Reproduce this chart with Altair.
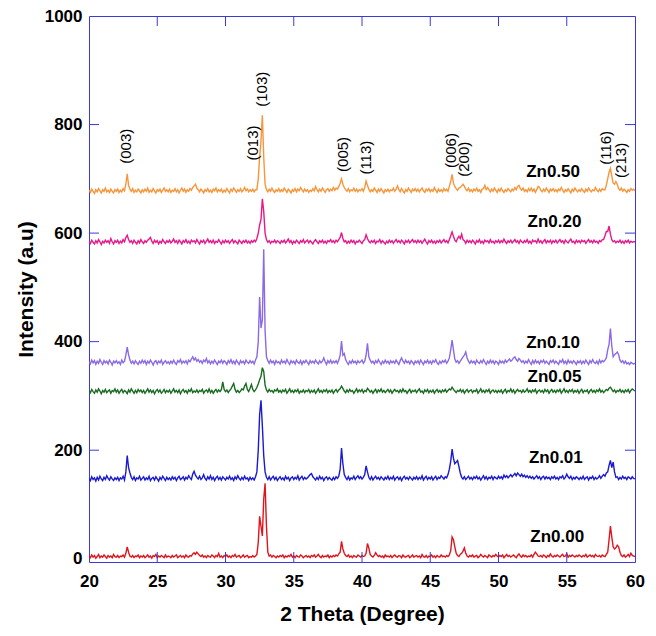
import altair as alt
import numpy as np
import pandas as pd

# 2-theta sampling grid (0.1 degree steps)
two_theta = np.round(20 + 0.1 * np.arange(401), 1)

zn000 = [
    5,2,7,3,6,1,4,8,2,5,3,7,4,1,6,3,5,2,8,4,
    3,6,2,5,4,7,3,10,22,12,5,3,6,2,5,4,7,2,5,3,
    6,2,4,7,3,5,1,6,4,8,2,5,3,6,4,2,7,3,5,4,
    2,6,3,5,7,2,4,6,3,5,2,7,4,3,6,5,9,11,8,12,
    9,6,4,7,3,5,2,6,4,3,7,5,2,6,4,10,3,5,2,6,
    4,7,3,5,2,6,4,8,3,5,6,2,4,7,3,5,6,2,4,3,
    6,3,5,8,30,78,60,42,110,139,60,12,5,7,3,6,4,2,5,3,
    6,4,7,2,5,3,6,4,8,3,5,2,6,4,3,7,5,2,4,6,
    3,5,2,6,4,7,3,5,8,4,2,6,3,5,4,7,2,5,3,6,
    4,7,5,9,12,32,18,10,6,4,7,3,5,2,6,4,3,7,5,3,
    6,4,5,10,28,20,8,5,3,6,11,7,4,6,3,5,2,7,4,5,
    3,6,2,5,7,4,3,6,5,2,7,4,3,5,6,2,4,7,3,5,
    6,3,5,2,8,4,3,6,2,5,4,7,3,5,2,6,4,3,7,4,
    5,3,6,4,7,15,40,35,22,10,6,4,8,10,14,20,10,5,3,6,
    4,7,3,5,6,2,4,8,5,3,6,4,2,7,5,3,6,4,8,5,
    3,6,4,7,2,5,8,4,6,3,5,7,4,2,6,9,5,3,7,4,
    6,3,5,4,7,3,8,12,9,5,4,6,3,7,5,2,6,4,9,5,
    3,6,4,7,5,3,6,8,4,5,9,3,6,4,7,5,3,6,4,7,
    5,3,6,4,8,3,5,7,4,6,3,8,5,4,6,3,7,5,4,8,
    12,35,60,40,22,18,20,25,22,12,6,4,7,3,5,8,4,10,6,5,
    4,
]

zn001 = [
    148,144,151,146,149,143,150,145,152,147,144,150,146,153,148,145,151,147,144,149,
    146,150,144,149,147,152,145,160,190,168,158,150,146,151,144,149,147,152,145,148,
    151,145,149,146,152,144,148,150,145,151,147,143,150,146,152,148,144,150,146,149,
    145,151,147,150,144,149,152,146,148,151,145,150,147,153,149,146,156,161,154,150,
    147,152,146,149,155,148,145,151,147,153,146,150,144,149,152,146,150,145,151,148,
    145,150,147,152,146,149,144,151,147,153,148,145,150,146,152,147,149,144,150,146,
    149,145,151,160,200,265,292,245,190,160,150,146,151,145,149,152,146,150,144,148,
    151,146,149,145,152,147,150,144,149,151,146,150,147,153,145,149,152,146,150,147,
    149,152,155,157,151,148,145,150,146,152,147,150,144,149,151,146,150,147,145,150,
    146,151,148,152,165,204,175,155,150,146,151,145,149,147,152,146,150,153,148,151,
    147,150,155,171,160,150,146,151,145,149,152,147,150,146,151,148,145,150,147,152,
    146,150,147,152,145,149,151,146,150,144,149,152,147,150,146,151,148,145,150,147,
    151,146,150,147,153,145,149,152,146,150,147,151,145,149,152,146,150,148,153,150,
    147,151,149,155,165,180,202,185,175,178,181,170,158,150,147,151,146,149,152,147,
    150,146,151,148,152,147,150,145,149,153,147,151,146,150,148,152,146,151,149,147,
    152,148,151,147,154,150,153,149,152,155,151,154,157,153,158,155,152,156,151,154,
    150,153,149,152,148,151,147,150,153,148,151,146,150,152,147,151,148,150,146,151,
    148,152,147,150,146,151,149,153,147,150,156,151,148,152,146,150,147,151,149,146,
    150,147,152,146,149,151,145,150,148,152,146,150,147,149,153,148,152,155,152,158,
    160,172,181,168,178,160,150,151,146,150,147,152,148,150,146,151,149,147,151,148,
    147,
]

zn005 = [
    310,306,312,308,305,311,307,313,309,304,310,307,312,306,309,311,305,310,308,313,
    307,311,305,309,312,306,310,308,304,311,307,313,309,305,310,306,312,308,311,306,
    310,305,309,313,307,311,306,310,304,309,312,307,311,305,308,312,306,310,307,311,
    305,309,313,307,310,306,311,304,309,312,307,310,305,311,308,313,306,309,307,311,
    306,310,308,312,305,309,311,307,313,306,310,305,309,312,307,311,308,312,326,312,
    308,311,306,310,313,318,323,312,307,310,306,309,313,311,318,323,312,308,314,321,
    312,308,311,316,322,330,336,352,345,320,311,307,312,308,310,306,311,309,313,307,
    310,306,311,308,312,305,309,313,307,310,306,311,308,312,305,309,307,311,306,310,
    308,312,306,310,307,311,305,309,313,307,310,306,311,308,312,306,310,307,311,305,
    309,312,307,311,313,318,314,309,306,311,307,312,308,310,305,309,313,307,311,308,
    312,306,310,308,314,311,307,310,305,309,312,306,311,308,313,307,310,306,309,312,
    307,311,305,309,312,308,310,306,311,307,313,308,310,305,309,312,306,310,308,311,
    306,310,313,307,309,305,311,308,312,306,310,307,311,305,309,312,307,310,306,311,
    308,312,307,310,313,311,316,312,309,306,310,308,312,307,311,305,309,312,307,310,
    311,306,310,308,312,305,309,313,307,310,306,311,308,312,305,309,311,307,310,306,
    310,307,311,305,309,312,306,310,308,313,307,311,305,309,312,308,310,306,311,307,
    309,313,307,310,306,311,308,312,305,309,311,307,310,306,312,308,311,305,309,312,
    307,310,306,311,308,312,305,309,313,307,310,306,311,308,312,306,310,307,311,305,
    309,312,306,310,308,311,305,309,312,307,310,306,311,308,313,307,310,306,309,312,
    310,314,316,312,308,311,306,310,308,312,307,310,306,311,308,312,306,310,313,311,
    309,
]

zn010 = [
    363,359,366,361,365,358,364,360,367,362,358,365,361,364,359,366,362,357,364,361,
    365,360,363,358,366,361,364,375,390,376,366,360,364,359,365,361,358,364,360,366,
    361,365,358,364,360,366,362,357,363,365,359,364,361,366,358,362,365,360,363,359,
    364,360,366,361,358,365,362,367,360,364,361,365,359,366,363,368,372,366,370,364,
    367,362,365,360,366,363,369,361,365,359,364,360,366,362,358,364,361,366,360,365,
    362,358,365,361,367,360,364,359,366,362,358,365,361,364,359,366,362,360,365,361,
    364,359,366,372,400,482,425,440,570,420,372,365,360,366,361,364,358,365,361,363,
    359,366,361,364,360,367,362,358,365,361,364,359,366,362,360,365,358,364,361,366,
    362,358,365,361,364,360,366,362,359,365,361,364,370,363,358,365,361,366,360,364,
    361,365,360,366,375,401,375,378,367,362,358,364,360,366,361,364,359,365,361,363,
    366,360,364,375,397,372,366,361,364,359,365,361,367,362,358,364,360,366,361,364,
    359,365,361,364,360,366,362,358,365,370,364,360,366,361,364,359,365,362,358,364,
    361,365,359,366,362,358,364,361,366,360,364,359,365,362,367,361,358,364,360,365,
    362,366,360,364,370,385,403,385,368,362,365,360,364,368,372,375,381,370,364,360,
    365,361,364,359,366,362,360,365,361,367,362,358,364,360,366,361,365,359,364,362,
    358,365,361,364,360,366,362,365,368,364,366,370,372,367,364,369,366,362,365,360,
    364,361,367,362,358,365,360,366,361,364,359,365,362,366,360,364,361,358,365,362,
    366,360,364,361,358,365,362,367,360,364,359,366,361,364,360,365,362,358,364,361,
    365,359,364,360,366,362,358,365,361,367,362,360,364,359,366,361,365,363,366,370,
    385,395,424,392,372,376,378,381,376,366,362,365,360,364,359,361,358,362,360,359,
    360,
]

zn020 = [
    585,581,587,583,580,586,582,588,584,579,585,582,587,583,586,581,590,584,580,586,
    583,587,581,585,582,588,584,592,596,588,583,586,581,587,583,580,586,582,588,584,
    581,586,583,587,589,592,585,581,587,583,586,580,585,582,588,584,581,586,583,587,
    582,585,589,583,586,581,587,584,580,586,583,588,582,585,581,587,584,586,582,588,
    584,580,586,583,587,581,585,589,583,586,582,587,581,585,583,588,584,580,586,582,
    587,583,586,581,585,588,582,586,583,580,587,584,581,586,583,587,582,585,581,586,
    583,587,584,590,600,615,625,663,640,600,588,583,586,581,585,583,587,582,586,584,
    581,586,583,587,582,585,589,583,586,580,585,582,587,584,581,586,583,588,582,585,
    587,582,586,583,580,585,588,584,581,586,583,587,582,585,581,586,584,588,583,586,
    582,587,584,588,592,601,590,584,586,581,585,582,587,583,586,580,585,583,587,584,
    581,586,588,597,590,585,582,586,583,587,581,585,584,588,582,586,583,580,585,582,
    587,583,586,581,585,588,583,586,582,587,584,580,586,583,587,582,585,588,583,586,
    582,587,583,586,581,585,589,584,580,586,583,587,582,585,581,586,583,587,582,585,
    588,583,586,582,588,595,602,594,587,584,590,594,590,598,588,586,581,587,583,586,
    582,587,584,580,586,583,588,582,585,581,587,584,586,582,588,583,585,581,586,583,
    587,582,586,583,589,584,581,586,583,587,582,585,588,583,586,581,587,584,582,586,
    583,588,582,585,581,587,584,586,582,589,583,586,581,585,588,582,586,583,587,581,
    586,583,587,582,585,588,583,586,581,587,584,582,586,589,583,585,581,587,583,586,
    582,587,584,586,581,585,588,583,586,582,587,583,585,581,586,584,588,588,595,603,
    603,613,598,588,584,586,582,585,583,587,582,585,581,586,583,587,582,585,583,584,
    584,
]

zn050 = [
    679,675,681,677,673,680,676,682,678,674,680,677,683,676,679,675,681,677,674,680,
    677,681,675,679,676,682,678,690,709,688,681,677,682,675,679,676,681,678,674,680,
    676,681,677,683,675,679,676,682,678,674,680,677,681,675,679,683,677,680,676,681,
    675,679,677,682,676,680,674,679,683,677,681,675,680,677,682,679,684,687,690,683,
    680,676,681,678,674,680,677,682,676,679,675,681,678,683,676,680,677,681,675,679,
    676,682,678,674,681,677,683,679,675,680,677,682,676,679,684,678,681,676,680,677,
    681,676,680,680,700,740,770,817,740,690,680,676,681,677,683,678,675,680,677,682,
    676,680,677,683,679,675,681,678,674,680,677,682,676,681,678,684,680,676,681,677,
    680,675,679,677,682,678,686,680,676,681,677,683,679,675,680,682,677,681,678,684,
    679,683,681,686,692,700,690,684,680,677,682,676,680,678,683,677,681,676,680,678,
    682,677,684,696,688,681,676,680,677,683,679,675,681,677,682,678,674,680,677,681,
    676,680,678,683,677,681,687,680,676,682,678,674,680,677,683,679,675,681,678,682,
    677,681,676,680,683,678,675,681,678,682,676,680,677,684,679,675,681,677,680,676,
    682,678,681,677,686,695,708,692,686,682,679,683,684,687,690,686,681,678,683,677,
    680,676,681,678,683,677,680,675,681,682,688,680,684,680,676,681,677,683,679,675,
    681,677,683,678,675,680,677,682,679,676,681,678,684,680,686,688,682,679,683,677,
    680,676,682,678,683,677,681,675,680,686,684,679,676,681,677,683,679,675,681,678,
    682,677,680,676,681,678,684,679,675,680,677,682,678,674,681,677,683,679,676,680,
    677,682,678,675,681,677,683,679,676,680,678,684,679,676,681,677,682,680,680,688,
    700,712,719,705,692,690,695,690,682,679,683,677,681,678,675,680,677,682,679,681,
    678,
]

series_names = ["Zn0.00", "Zn0.01", "Zn0.05", "Zn0.10", "Zn0.20", "Zn0.50"]
series_values = [zn000, zn001, zn005, zn010, zn020, zn050]
series_colors = ["#e0141c", "#1a1ad0", "#1a6b22", "#8a6ae6", "#e8188a", "#f7963a"]

for v in series_values:
    assert len(v) == 401, len(v)

# series labels
label_text = ["Zn0.50", "Zn0.20", "Zn0.10", "Zn0.05", "Zn0.01", "Zn0.00"]
label_x = [54.0, 54.1, 54.0, 54.1, 54.2, 54.3]
label_y = [713, 621, 398, 335, 185, 40]

# Miller indices
hkl_text = ["(003)", "(013)", "(103)", "(005)", "(113)", "(006)", "(200)", "(116)", "(213)"]
hkl_x = [22.7, 32.0, 32.7, 38.6, 40.3, 46.5, 47.5, 57.85, 59.0]
hkl_y = [760, 766, 865, 745, 739, 752, 736, 757, 734]

x_ticks = [20, 25, 30, 35, 40, 45, 50, 55, 60]
y_ticks = [0, 200, 400, 600, 800, 1000]
x_inner = [25, 30, 35, 40, 45, 50, 55]
y_inner = [200, 400, 600, 800]

FONT = "Arial, Liberation Sans, sans-serif"
FRAME = "#3a3ad8"
W, H = 546, 546

rows = []
for name, vals in zip(series_names, series_values):
    for t, v in zip(two_theta, vals):
        rows.append({"theta": float(t), "intensity": v, "series": name})
df = pd.DataFrame(rows)

xscale = alt.Scale(domain=[20, 60], nice=False, zero=False)
yscale = alt.Scale(domain=[-6, 1000], nice=False, zero=False)

lines = alt.Chart(df).mark_line(strokeWidth=1.4, clip=True).encode(
    x=alt.X("theta:Q", scale=xscale,
            axis=alt.Axis(values=x_ticks, title="2 Theta (Degree)", labelFlush=False,
                          format="d", labelPadding=11, titlePadding=14)),
    y=alt.Y("intensity:Q", scale=yscale,
            axis=alt.Axis(values=y_ticks, title="Intensity (a.u)", labelPadding=7,
                          format="d", titlePadding=8)),
    color=alt.Color("series:N", scale=alt.Scale(domain=series_names, range=series_colors),
                    legend=None),
    detail="series:N",
)

labels = alt.Chart(pd.DataFrame({"t": label_text, "x": label_x, "y": label_y})).mark_text(
    font=FONT, fontSize=17, fontWeight="bold", color="black", align="center", baseline="middle"
).encode(x=alt.X("x:Q", scale=xscale), y=alt.Y("y:Q", scale=yscale), text="t:N")

hkl = alt.Chart(pd.DataFrame({"t": hkl_text, "x": hkl_x, "y": hkl_y})).mark_text(
    font=FONT, fontSize=15, color="black", angle=270, align="center", baseline="middle"
).encode(x=alt.X("x:Q", scale=xscale), y=alt.Y("y:Q", scale=yscale), text="t:N")

xt = pd.DataFrame({"v": x_inner})
yt = pd.DataFrame({"v": y_inner})
tick_bottom = alt.Chart(xt).mark_rule(color=FRAME, strokeWidth=1).encode(
    x=alt.X("v:Q", scale=xscale), y=alt.value(H), y2=alt.value(H - 10))
tick_top = alt.Chart(xt).mark_rule(color=FRAME, strokeWidth=1).encode(
    x=alt.X("v:Q", scale=xscale), y=alt.value(0), y2=alt.value(10))
tick_left = alt.Chart(yt).mark_rule(color=FRAME, strokeWidth=1).encode(
    y=alt.Y("v:Q", scale=yscale), x=alt.value(0), x2=alt.value(10))
tick_right = alt.Chart(yt).mark_rule(color=FRAME, strokeWidth=1).encode(
    y=alt.Y("v:Q", scale=yscale), x=alt.value(W), x2=alt.value(W - 10))

chart = alt.layer(lines, labels, hkl, tick_bottom, tick_top, tick_left, tick_right).properties(
    width=W, height=H,
    autosize=alt.AutoSizeParams(type="none"),
    padding={"left": 81, "top": 8, "right": 12, "bottom": 66},
).configure_view(
    stroke=FRAME, strokeWidth=1
).configure_axis(
    domain=False, ticks=False, grid=False,
    labelFont=FONT, labelFontSize=17, labelFontWeight="bold", labelColor="black",
    titleFont=FONT, titleFontSize=21, titleFontWeight="bold", titleColor="black",
    labelOverlap=False,
)

chart.save("out.html", embed_options={"renderer": "svg", "actions": False})
